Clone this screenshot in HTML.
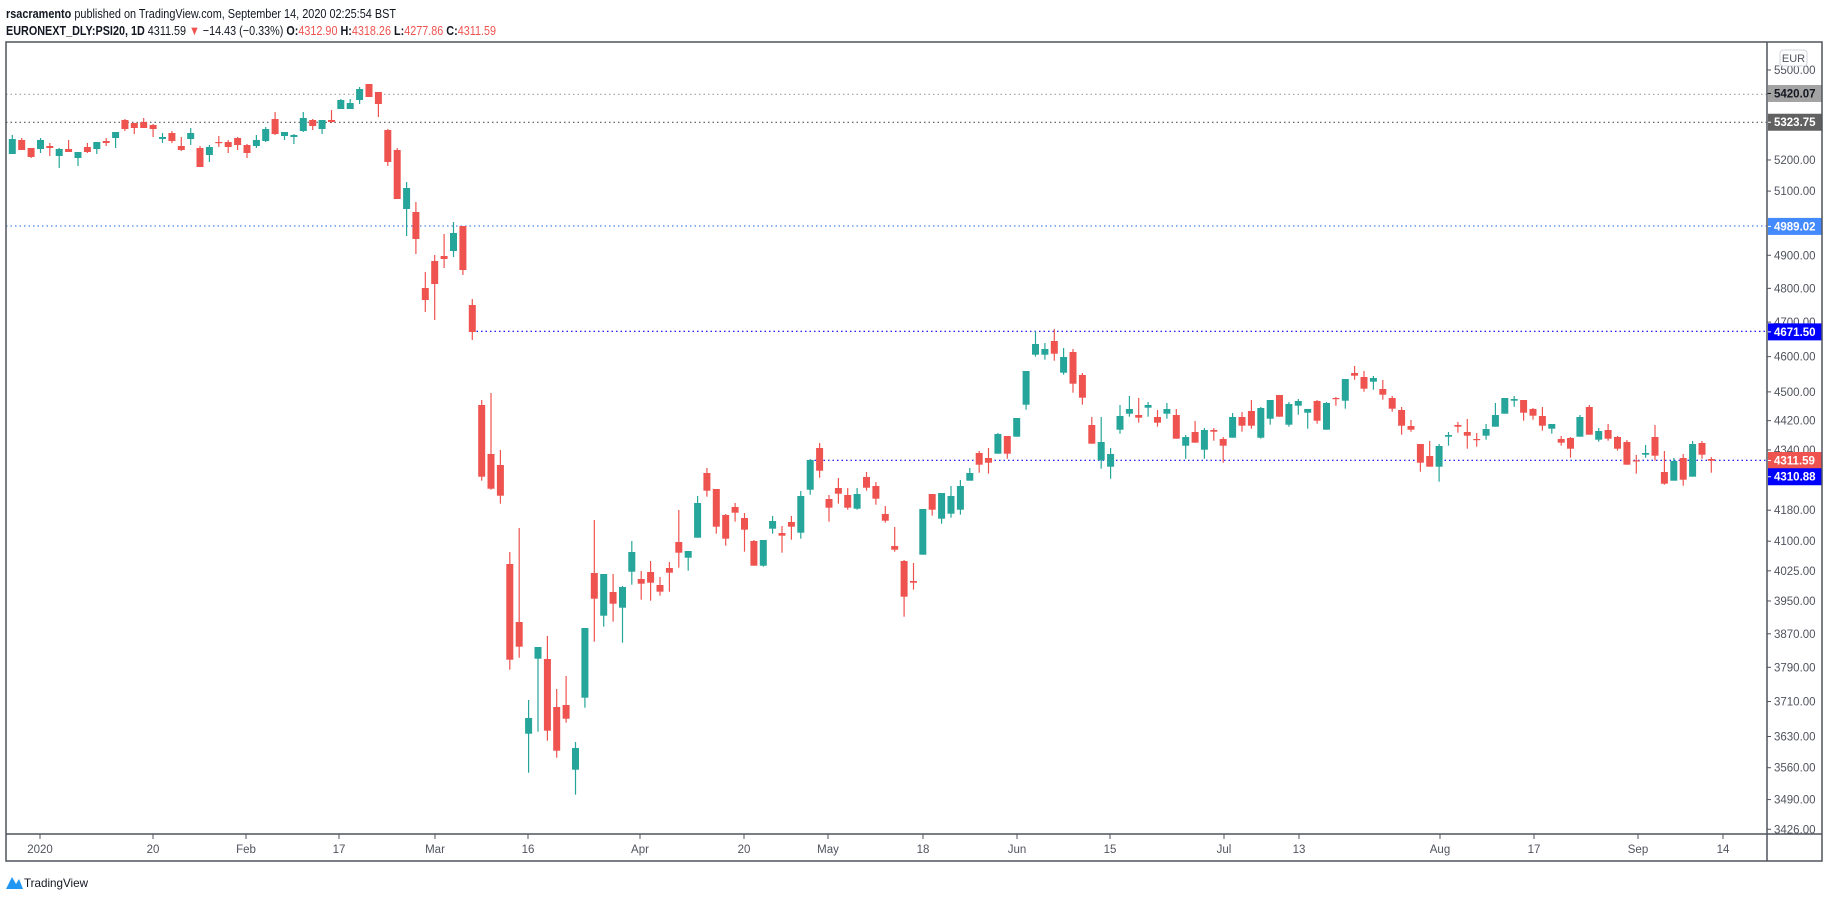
<!DOCTYPE html>
<html><head><meta charset="utf-8"><style>
html,body{margin:0;padding:0;background:#fff;}
svg{display:block;font-family:"Liberation Sans",sans-serif;}
</style></head><body>
<svg id="c" width="1828" height="898" viewBox="0 0 1828 898" xmlns="http://www.w3.org/2000/svg">
<rect width="1828" height="898" fill="#fff"/>
<text x="6" y="18" font-size="13" fill="#131722" textLength="390" lengthAdjust="spacingAndGlyphs"><tspan font-weight="bold">rsacramento</tspan> published on TradingView.com, September 14, 2020 02:25:54 BST</text>
<text x="6" y="35" font-size="13" fill="#131722" textLength="490" lengthAdjust="spacingAndGlyphs"><tspan font-weight="bold">EURONEXT_DLY:PSI20, 1D</tspan> 4311.59 <tspan fill="#ef5350">▼</tspan> −14.43 (−0.33%) <tspan font-weight="bold">O:</tspan><tspan fill="#ef5350">4312.90</tspan> <tspan font-weight="bold">H:</tspan><tspan fill="#ef5350">4318.26</tspan> <tspan font-weight="bold">L:</tspan><tspan fill="#ef5350">4277.86</tspan> <tspan font-weight="bold">C:</tspan><tspan fill="#ef5350">4311.59</tspan></text>
<g id="lines"></g>
<g id="candles"></g>
<g id="axis"></g>
<rect x="6" y="42" width="1816" height="819" fill="none" stroke="#50535e" stroke-width="1.5"/>
<line x1="6" y1="834" x2="1822" y2="834" stroke="#50535e" stroke-width="1.5"/>
<line x1="1767" y1="42" x2="1767" y2="861" stroke="#50535e" stroke-width="1.5"/>
<rect x="1780" y="50" width="27" height="16" rx="3" fill="#fff" stroke="#d1d4dc"/>
<text x="1793.5" y="62" font-size="11" fill="#50535e" text-anchor="middle">EUR</text>
<g id="tl"></g>
<path d="M6 889 L12 877 L16 884 L19 879 L23 889 Z" fill="#2196f3"/>
<text x="24" y="887" font-size="12" fill="#131722" textLength="64" lengthAdjust="spacingAndGlyphs">TradingView</text>
</svg>
<script>
var NS="http://www.w3.org/2000/svg";
function el(p,t,a,tx){var e=document.createElementNS(NS,t);for(var k in a)e.setAttribute(k,a[k]);if(tx!==undefined)e.textContent=tx;document.getElementById(p).appendChild(e);return e;}
function Y(p){return 70+1604*Math.log(5500/p);}
// horizontal lines
el("lines","line",{x1:6,y1:94.3,x2:1767,y2:94.3,stroke:"#9e9e9e","stroke-dasharray":"1.5 3","stroke-width":1.2});
el("lines","line",{x1:6,y1:122.3,x2:1767,y2:122.3,stroke:"#555","stroke-dasharray":"1.5 3","stroke-width":1.2});
el("lines","line",{x1:6,y1:226,x2:1767,y2:226,stroke:"#4a86e8","stroke-dasharray":"1.5 3","stroke-width":1.2});
el("lines","line",{x1:472,y1:331.3,x2:1767,y2:331.3,stroke:"#0000ff","stroke-dasharray":"1.5 3","stroke-width":1.2});
el("lines","line",{x1:810,y1:460.3,x2:1767,y2:460.3,stroke:"#0000ff","stroke-dasharray":"1.5 3","stroke-width":1.2});
// candles: groups [yoff, [wt,bt,bb,wb,c]] zoom coords (/3)
var G=[
[60,[[225,237,282,282,1],[234,240,270,270,0],[264,264,291,294,0],[234,240,267,279,1],[249,258,264,288,0],[264,267,288,324,1],[240,267,276,276,0],[276,276,294,318,1],[249,261,276,279,0],[246,246,267,282,1],[234,243,249,258,0],[216,216,234,264,1],[177,180,207,213,0],[189,189,204,222,0],[174,186,204,204,0],[192,195,207,231,0],[219,231,237,249,1],[213,219,243,249,0],[231,258,270,273,0],[204,219,237,255,1],[258,264,321,321,0],[255,261,285,306,1],[228,246,248,261,0],[240,246,261,279,0],[231,234,255,270,0],[252,255,279,294,0],[225,240,258,264,1],[201,207,243,246,1],[156,177,222,225,0],[216,216,228,240,1],[222,225,231,252,1],[156,174,213,216,1],[177,180,198,210,0],[180,180,207,222,1],[150,180,186,189,0],[117,120,147,147,1],[117,129,147,147,1],[81,87,120,132,1],[72,72,111,111,0],[96,96,132,171,0],[207,210,306,318,0],[264,270,417,417,0],[366,384,447,528,1],[426,456,537,582,0],[636,684,720,756,0],[585,603,672,780,0],[522,588,597,624,0],[486,519,573,591,1],[498,498,630,645,0],[717,735,816,840,0]]],
[300,[[300,315,530,542,0],[279,462,566,569,0],[450,495,587,611,0],[756,792,1079,1109,0],[684,966,1040,1073,0],[1200,1254,1301,1418,1],[1041,1041,1076,1295,1],[1008,1077,1292,1322,0],[1167,1221,1352,1373,0],[1128,1215,1256,1268,0],[1326,1344,1409,1484,1],[984,984,1193,1223,1],[660,819,896,1025,0],[822,822,947,980,1],[822,876,911,965,0],[858,861,923,1028,1],[723,756,815,854,1],[813,837,851,899,0],[783,816,848,902,0],[831,855,875,887,0],[786,804,818,875,0],[630,726,758,803,0],[753,753,773,812,1],[588,609,713,713,1],[504,519,572,590,0],[567,567,680,701,0],[642,645,716,737,0],[609,621,638,665,0],[639,654,689,755,0],[720,723,797,797,0],[720,720,797,800,1],[648,663,686,701,1],[678,699,707,758,0],[648,666,680,719,0]]],
[310,[[543,558,668,686,1],[447,450,539,554,1],[399,414,482,503,0],[555,567,593,635,0],[504,534,551,581,0],[534,555,593,599,0],[534,552,596,599,1],[486,501,533,542,0],[516,528,566,584,0],[588,612,632,638,0],[651,708,719,725,0],[750,753,860,920,0],[759,813,818,839,0],[597,597,734,734,1],[552,552,599,617,0],[549,549,626,641,1],[528,558,611,623,1],[510,528,599,614,1],[474,489,512,512,1],[423,429,464,488,0],[414,444,458,491,0],[369,372,431,431,1],[378,378,431,446,0],[324,324,380,380,1],[183,183,284,299,1],[64,102,134,140,1],[99,117,134,149,1],[57,93,131,152,0],[114,141,188,194,1],[117,126,221,248,0],[189,195,263,284,0],[321,345,401,401,0],[321,396,451,476,1],[414,432,470,506,1],[285,318,359,371,1],[258,297,311,320,1],[264,315,323,338,0],[276,285,293,320,1],[300,321,338,350,0],[279,297,311,326,1],[297,315,386,386,0],[375,381,407,446,1],[333,366,398,398,0],[354,360,419,446,1],[354,360,365,392,0],[381,387,407,458,0]]],
[360,[[159,171,233,233,1],[156,171,197,215,0],[120,153,197,206,0],[141,144,233,236,1],[120,120,176,194,1],[105,105,170,170,0],[126,132,194,200,1],[117,123,137,164,1],[147,147,158,206,1],[120,123,182,191,0],[126,129,209,209,1],[111,114,117,137,0],[57,57,122,146,1],[18,39,47,59,0],[33,51,86,95,0],[48,54,65,89,1],[60,87,104,119,0],[108,114,146,155,0],[141,150,197,224,0],[180,198,209,215,0],[252,252,308,335,0],[243,288,320,320,0],[252,258,320,365,1],[216,225,230,257,1],[186,195,200,218,0],[177,216,227,266,0],[219,237,239,260,0],[192,207,227,239,1],[129,165,200,200,1],[114,114,161,161,1],[108,117,122,140,1],[120,120,158,182,0],[144,147,167,179,0],[141,168,197,212,0],[192,192,206,221,1],[228,237,248,257,0],[231,234,266,293,0],[165,171,230,230,1],[135,141,224,224,0],[204,213,239,245,1],[192,210,236,242,0],[228,231,266,272,0],[240,246,314,314,0],[285,301,304,341,0],[255,279,284,293,1],[195,231,287,302,0],[273,336,371,374,0],[294,303,362,362,1],[282,294,359,377,0],[243,252,350,350,1],[243,249,284,296,0],[291,297,302,338,0]]]
];
var i=0;
G.forEach(function(g){var o=g[0];g[1].forEach(function(d){
 var x=12.3+i*9.387; var col=d[4]?"#26a69a":"#ef5350";
 var wt=o+d[0]/3,bt=o+d[1]/3,bb=o+d[2]/3,wb=o+d[3]/3;
 el("candles","line",{x1:x.toFixed(1),x2:x.toFixed(1),y1:wt.toFixed(1),y2:wb.toFixed(1),stroke:col,"stroke-width":1.2});
 el("candles","rect",{x:(x-3.5).toFixed(1),y:bt.toFixed(1),width:7,height:Math.max(1.2,bb-bt).toFixed(1),fill:col});
 i++;});});
// price axis
[5500,5200,5100,4900,4800,4700,4600,4500,4420,4340,4180,4100,4025,3950,3870,3790,3710,3630,3560,3490,3426].forEach(function(p){
 var y=Y(p);
 el("axis","line",{x1:1767,x2:1771,y1:y,y2:y,stroke:"#50535e"});
 el("axis","text",{x:1774,y:y+4,"font-size":11.5,fill:"#50535e"},p.toFixed(2));
});
var B=[[5420.07,"#a3a3a3","#131722"],[5323.75,"#616161","#fff"],[4989.02,"#448aff","#fff"],[4671.50,"#0000ff","#fff"],[4311.59,"#ef5350","#fff"],[4310.88,"#0000ff","#fff"]];
B.forEach(function(b,k){
 var y=Y(b[0]); if(k==5)y+=16;
 el("axis","rect",{x:1768,y:y-8.5,width:54,height:17,fill:b[1]});
 el("axis","line",{x1:1767,x2:1771,y1:y,y2:y,stroke:b[2]});
 el("axis","text",{x:1774,y:y+4,"font-size":11.5,fill:b[2],"font-weight":"bold"},b[0].toFixed(2));
});
// time labels
[["2020",40],["20",153],["Feb",246],["17",339],["Mar",435],["16",528],["Apr",640],["20",744],["May",828],["18",923],["Jun",1017],["15",1110],["Jul",1224],["13",1299],["Aug",1440],["17",1534],["Sep",1638],["14",1723]].forEach(function(t){
 el("tl","line",{x1:t[1],x2:t[1],y1:834,y2:839,stroke:"#50535e"});
 el("tl","text",{x:t[1],y:853,"font-size":11.5,fill:"#50535e","text-anchor":"middle"},t[0]);
});
</script>
</body></html>
